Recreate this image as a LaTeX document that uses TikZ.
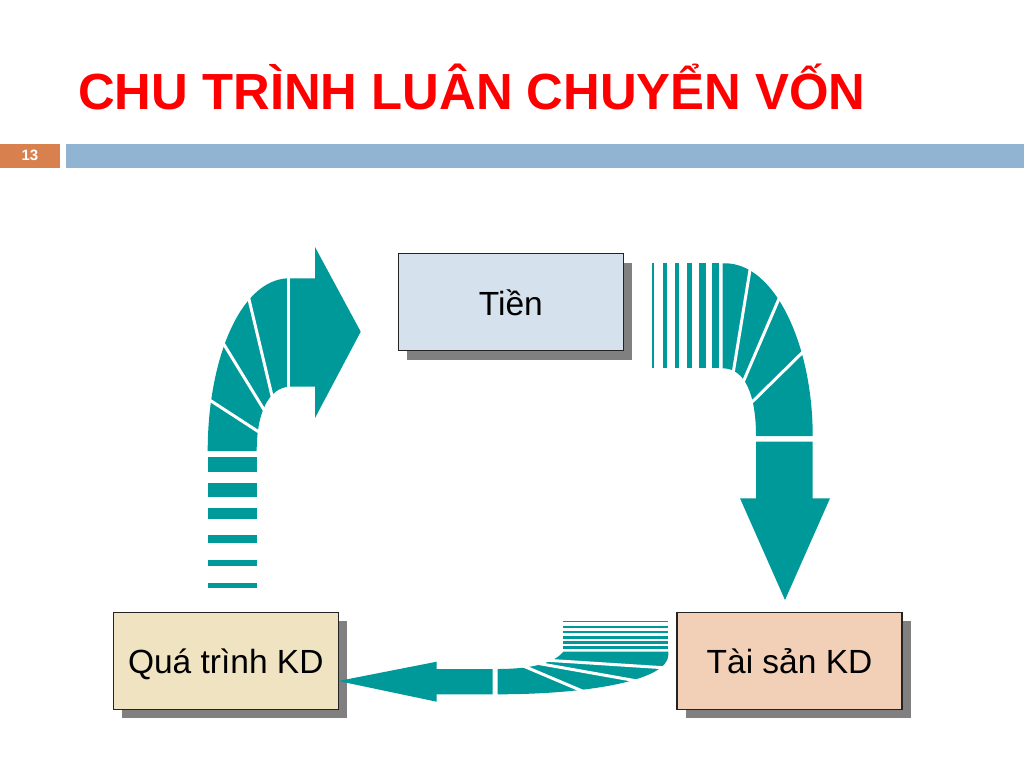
\documentclass[tikz,border=0pt]{standalone}
\usepackage{fontspec}
\setmainfont{Liberation Sans}
\usetikzlibrary{shadows}
\definecolor{tealc}{RGB}{0,153,153}
\definecolor{titlered}{RGB}{255,0,0}
\definecolor{barorange}{RGB}{216,128,78}
\definecolor{barblue}{RGB}{146,180,211}
\definecolor{boxblue}{RGB}{213,225,236}
\definecolor{boxwheat}{RGB}{239,227,194}
\definecolor{boxpeach}{RGB}{242,207,183}
\definecolor{shadowgray}{RGB}{128,128,128}
\definecolor{boxline}{RGB}{35,35,35}
\tikzset{
  box/.style={draw=boxline, line width=1.2pt, inner sep=0pt,
    minimum width=225pt, minimum height=97pt,
    text height=26pt, text depth=0pt,
    font=\fontsize{33.5}{40}\selectfont,
    drop shadow={shadow xshift=9pt, shadow yshift=-9pt, fill=shadowgray, opacity=1}},
  teal/.style={fill=tealc},
  divider/.style={draw=white, line width=3pt}
}
\begin{document}
\begin{tikzpicture}[x=1pt,y=-1pt]
\useasboundingbox (0,0) rectangle (1024,768);
\fill[white] (0,0) rectangle (1024,768);
% title
\node[anchor=base west, inner sep=0pt, text=titlered, font=\fontsize{50.8}{60}\selectfont\bfseries] (title) at (78,109) {CHU TRÌNH LUÂN CHUYỂN VỐN};
% header bar
\fill[barorange] (0,143.5) rectangle (60,168.3);
\fill[barblue] (66,143.5) rectangle (1024,168.3);
\node[inner sep=0pt, text=white, font=\fontsize{15}{18}\selectfont\bfseries] (num) at (30,155.5) {13};
% boxes
\node[box, fill=boxblue] (tien) at (510.8,302.2) {Tiền};
\node[box, fill=boxwheat] (qtkd) at (225.8,660.8) {Quá trình KD};
\node[box, fill=boxpeach] (tskd) at (789.5,660.8) {Tài sản KD};
% left arrow (up then right)
\foreach \a/\b in {457/472, 483/497, 508/519, 535/543, 560/565.7, 583.3/588.3}
  \fill[teal] (207.7,\a) rectangle (256.7,\b);
\fill[teal] (207.7,451) .. controls (207.7,360) and (240,280) .. (288,278.3)
  -- (315,278.3) -- (315,247) -- (360.7,331.7) -- (315,418) -- (315,386.7)
  -- (289,386.7) .. controls (270,388) and (256.7,410) .. (256.7,451) -- cycle;
\draw[divider] (288,272) -- (288,392);
\draw[divider] (247,291) -- (273,400);
\draw[divider] (220,338) -- (266,413);
\draw[divider] (205,397) -- (262,434);
% right arrow (right then down)
\foreach \a/\b in {651.7/654, 663.3/666.7, 675/679.3, 686.7/692.3, 699/705.7, 711.7/719.3}
  \fill[teal] (\a,263.3) rectangle (\b,368.3);
\fill[teal] (722.7,263.3) -- (725,263.3) .. controls (775,263.3) and (812.7,345) .. (812.7,436)
  -- (756,436) .. controls (756,395) and (745,368.3) .. (722.7,368.3) -- cycle;
\draw[divider] (751.3,262) -- (732,380);
\draw[divider] (781,294) -- (741,387);
\draw[divider] (808,347) -- (748,406);
\fill[teal] (756,441.7) -- (812.7,441.7) -- (812.7,498.3) -- (830,498.3) -- (785,600)
  -- (740,498.3) -- (756,498.3) -- cycle;
% bottom arrow (from right to left)
\foreach \a/\b in {621/622.3, 626/627.7, 631/633.3, 636/638.7, 641/644, 646/649.3}
  \fill[teal] (563.3,\a) rectangle (668.3,\b);
\fill[teal] (563.3,651.7) -- (668.3,651.7) -- (668.3,655)
  .. controls (668.3,680) and (590,694.3) .. (497.5,694.3) -- (497.5,669)
  .. controls (535,669) and (555,662) .. (563.3,651.7) -- cycle;
\draw[divider] (548,660.3) -- (668,668);
\draw[divider] (536,663) -- (640,681.5);
\draw[divider] (521,665) -- (587,693);
\fill[teal] (492.5,669) -- (436.7,669) -- (436.7,661.7) -- (338.3,681)
  -- (436.7,701.7) -- (436.7,694.3) -- (492.5,694.3) -- cycle;
\end{tikzpicture}
\end{document}
